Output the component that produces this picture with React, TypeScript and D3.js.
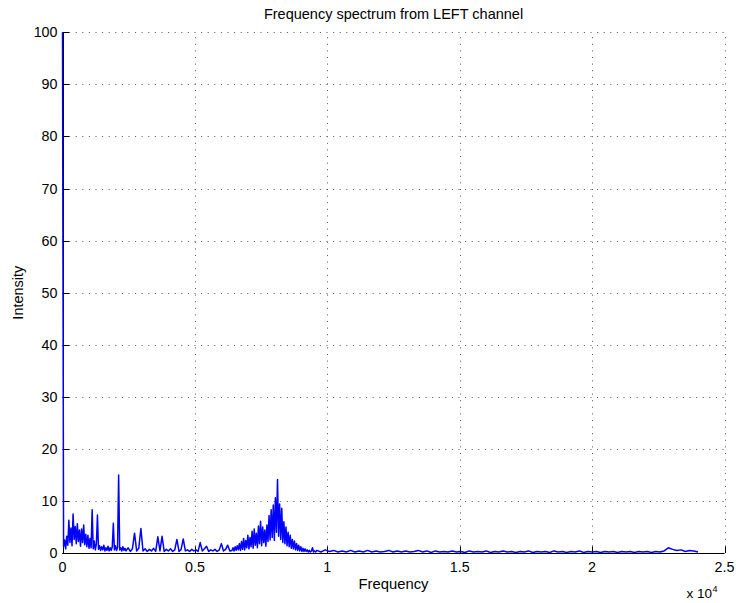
import * as d3 from "d3";

const title = "Frequency spectrum from LEFT channel";
const xLabel = "Frequency";
const yLabel = "Intensity";

const xTicks = [0, 5000, 10000, 15000, 20000, 25000];
const xTickLabels = ["0", "0.5", "1", "1.5", "2", "2.5"];
const yTicks = [0, 10, 20, 30, 40, 50, 60, 70, 80, 90, 100];

// spectrum, in four bands with their own bin spacing (Hz)
const lowBandStart = 0;
const lowBandStep = 40;
const lowBandValues = [
  100, 1.2, 2.5, 0.8, 3.2, 1.5, 6.3, 2.0, 4.8, 1.4,
  7.5, 2.6, 5.1, 1.8, 5.6, 2.2, 4.4, 1.3, 4.6, 2.0,
  5.4, 1.6, 3.6, 1.2, 3.4, 0.9, 2.8, 1.0, 8.3, 0.8,
  2.3, 0.6, 1.8, 7.3, 0.7, 1.4, 0.5, 1.2, 0.6, 1.5,
  0.4, 1.0, 0.5, 1.3, 0.4, 1.0, 0.5, 1.2, 5.7, 0.6,
  1.4, 0.5, 1.1, 15.0, 0.6, 1.0, 0.4, 1.2, 0.5, 0.9,
];

const midBandStart = 2400;
const midBandStep = 80;
const midBandValues = [
  0.4, 1.0, 0.3, 0.8, 3.8, 0.4, 0.9, 4.7, 0.4, 0.8,
  0.3, 0.7, 0.4, 0.9, 0.3, 3.1, 0.4, 3.2, 0.3, 0.7,
  0.4, 0.8, 0.3, 0.6, 2.6, 0.3, 0.7, 2.7, 0.4, 0.6,
  0.3, 0.7, 0.4, 0.6, 0.3, 2.0, 0.4, 0.8, 1.3, 0.3,
  0.6, 0.4, 0.7, 0.3, 0.6, 1.8, 0.4, 0.7, 1.5, 0.4,
];

const peakBandStart = 6400;
const peakBandStep = 40;
const peakBandValues = [
  0.5, 1.0, 0.4, 1.2, 0.5, 1.4, 0.6, 1.8, 0.5, 2.2,
  0.7, 2.8, 0.6, 2.4, 1.0, 3.4, 0.8, 3.0, 1.2, 4.2,
  0.9, 4.6, 1.5, 3.8, 1.0, 5.2, 1.8, 6.1, 1.4, 5.0,
  2.0, 4.4, 1.3, 5.4, 2.2, 7.2, 2.5, 8.3, 3.0, 9.2,
  2.4, 10.6, 4.0, 14.1, 3.2, 9.4, 2.6, 8.6, 2.0, 6.0,
  1.8, 5.0, 1.4, 4.0, 1.2, 3.4, 0.9, 2.6, 0.8, 2.3,
  0.6, 1.8, 0.5, 1.5, 0.4, 1.2, 0.3, 0.9, 0.3, 0.8,
  0.3, 0.6, 0.2, 0.5, 0.2, 0.4, 1.0, 0.2, 0.4, 0.2,
];

const highBandStart = 9600;
const highBandStep = 160;
const highBandValues = [
  0.5, 0.2, 0.6, 0.3, 0.5, 0.2, 0.4, 0.2, 0.5, 0.2,
  0.4, 0.2, 0.5, 0.2, 0.4, 0.2, 0.3, 0.5, 0.2, 0.4,
  0.2, 0.4, 0.2, 0.3, 0.5, 0.2, 0.4, 0.1, 0.4, 0.2,
  0.3, 0.2, 0.4, 0.2, 0.3, 0.1, 0.4, 0.2, 0.3, 0.2,
  0.4, 0.1, 0.3, 0.2, 0.4, 0.2, 0.3, 0.1, 0.3, 0.2,
  0.4, 0.1, 0.3, 0.2, 0.3, 0.1, 0.4, 0.2, 0.3, 0.1,
  0.3, 0.2, 0.4, 0.1, 0.3, 0.2, 0.3, 0.1, 0.3, 0.2,
  0.3, 0.1, 0.3, 0.2, 0.3, 0.1, 0.3, 0.2, 0.3, 0.1,
  0.3, 0.2, 0.4, 1.0, 0.7, 0.5, 0.6, 0.3, 0.5, 0.4,
  0.2,
];

const bands = [
  { start: lowBandStart, step: lowBandStep, values: lowBandValues },
  { start: midBandStart, step: midBandStep, values: midBandValues },
  { start: peakBandStart, step: peakBandStep, values: peakBandValues },
  { start: highBandStart, step: highBandStep, values: highBandValues },
];

const width = 736;
const height = 603;
const margin = { left: 62.5, right: 11.5, top: 32.3, bottom: 50 };
const font = "'Liberation Sans', Arial, Helvetica, sans-serif";

const App = () => {
  const points = bands.flatMap((b) =>
    b.values.map((v, i) => [b.start + i * b.step, v] as [number, number])
  );

  const x = d3.scaleLinear().domain([0, 25000]).range([margin.left, width - margin.right]);
  const y = d3.scaleLinear().domain([0, 100]).range([height - margin.bottom, margin.top]);

  const line = d3
    .line<[number, number]>()
    .x((d) => x(d[0]))
    .y((d) => y(d[1]));

  const x0 = x(0);
  const x1 = x(25000);
  const y0 = y(0);
  const y1 = y(100);
  const tickLen = 6.6;

  return (
    <svg
      width={width}
      height={height}
      style={{ position: "absolute", left: 0, top: 0, background: "#fff" }}
      fontFamily={font}
    >
      {/* dotted grid */}
      <g stroke="#555" strokeWidth={1} strokeDasharray="1 5.6" fill="none">
        {yTicks.map((t) => (
          <line key={"gy" + t} x1={x0} x2={x1} y1={Math.round(y(t)) + 0.5} y2={Math.round(y(t)) + 0.5} />
        ))}
        {xTicks.map((t) => (
          <line key={"gx" + t} x1={Math.round(x(t)) + 0.5} x2={Math.round(x(t)) + 0.5} y1={y0} y2={y1} />
        ))}
      </g>

      {/* axes and inward ticks */}
      <g stroke="#000" strokeWidth={1} fill="none">
        <line x1={x0} x2={x1} y1={Math.round(y0) + 0.5} y2={Math.round(y0) + 0.5} />
        <line x1={Math.round(x0) + 0.5} x2={Math.round(x0) + 0.5} y1={y0} y2={y1} />
        {yTicks.map((t) => (
          <line key={"ty" + t} x1={x0} x2={x0 + tickLen} y1={Math.round(y(t)) + 0.5} y2={Math.round(y(t)) + 0.5} />
        ))}
        {xTicks.map((t) => (
          <line key={"tx" + t} x1={Math.round(x(t)) + 0.5} x2={Math.round(x(t)) + 0.5} y1={y0} y2={y0 - tickLen} />
        ))}
      </g>

      <path d={line(points) ?? ""} fill="none" stroke="#0000ff" strokeWidth={1.5} strokeLinejoin="round" />

      {/* tick labels */}
      <g fontSize={14.3} fill="#000">
        {yTicks.map((t) => (
          <text key={"ly" + t} x={x0 - 5} y={y(t)} dy="0.35em" textAnchor="end">
            {t}
          </text>
        ))}
        {xTicks.map((t, i) => (
          <text key={"lx" + t} x={x(t)} y={y0 + 19} textAnchor="middle">
            {xTickLabels[i]}
          </text>
        ))}
        <text x={712} y={597.5} textAnchor="end" fontSize={13.5}>
          x 10
        </text>
        <text x={712.5} y={591.5} fontSize={9} textAnchor="start">
          4
        </text>
      </g>

      <text x={(x0 + x1) / 2} y={18.5} textAnchor="middle" fontSize={14.5}>
        {title}
      </text>
      <text x={(x0 + x1) / 2} y={588.5} textAnchor="middle" fontSize={14.8}>
        {xLabel}
      </text>
      <text
        transform={`translate(23, ${(y0 + y1) / 2}) rotate(-90)`}
        textAnchor="middle"
        fontSize={14.5}
      >
        {yLabel}
      </text>
    </svg>
  );
};

export default App;
